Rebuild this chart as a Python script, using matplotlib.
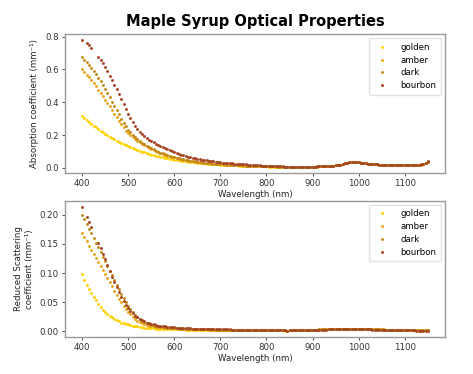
import numpy as np
import matplotlib
matplotlib.use("Agg")
import matplotlib.pyplot as plt

# =========================
# DATA (5 nm steps, 400-1150 nm)
# =========================

wavelength = np.arange(400, 1151, 5)
nan = np.nan

abs_golden = [
    .318, .305, .292, .280, .268, .257, .246, .236, .226, .216,
    .207, .198, .190, .181, .173, .166, .158, .151, .144, .138,
    .131, .125, .119, .114, .108, .103, .098, .094, .089, .085,
    .081, .077, .073, .070, .066, .063, .060, .057, .054, .052,
    .049, .047, .045, .043, .041, .039, .037, .036, .034, .033,
    .031, .030, .029, .027, .026, .025, .024, .023, .022, .021,
    .020, .019, .018, .017, .017, .016, .015, .015, .014, .013,
    .013, .012, .012, .011, .011, .010, .010, .010, .009, .009,
    .009, .008, .008, .008, .007, .007, .007, .007, .006, .006,
    .006, .006, .006, .006, .006, .006, .007, .007, .007, .007,
    .008, .008, .008, .009, .009, .010, .010, .011, .012, .013,
    .015, .017, .020, .024, .028, .031, .033, .034, .034, .034,
    .033, .032, .030, .028, .026, .025, .023, .022, .021, .020,
    .020, .019, .019, .018, .018, .018, .017, .017, .017, .017,
    .017, .017, .017, .017, .018, .018, .019, .020, .024, .031,
    .038,
]
abs_amber = [
    .601, .585, .568, .551, .533, .515, .496, .477, .457, .437,
    .416, .395, .374, .352, .330, .308, .287, .266, .246, .227,
    .213, .200, .188, .177, .166, .156, .147, .138, .130, .122,
    .115, .108, .102, .096, .090, .085, .080, .075, .071, .067,
    .063, .059, .056, .053, .050, .047, .044, .042, .040, .038,
    .036, .034, .032, .030, .029, .027, .026, .025, .024, .023,
    .022, .021, .020, .019, .018, .017, .017, .016, .015, .015,
    .014, .014, .013, .013, .012, .012, .011, .011, .010, .010,
    .010, .009, .009, .009, .008, .008, .008, .008, .007, .007,
    .007, .006, .006, .006, .006, .006, .007, .007, .007, .007,
    .008, .008, .008, .009, .009, .010, .010, .011, .012, .013,
    .015, .017, .020, .024, .028, .031, .033, .034, .034, .034,
    .033, .032, .030, .028, .026, .025, .023, .022, .021, .020,
    .020, .019, .019, .018, .018, .018, .017, .017, .017, .017,
    .017, .017, .017, .017, .018, .018, .019, .020, .024, .031,
    .038,
]
abs_dark = [
    .675, .660, .644, .627, .609, .590, .570, .549, .527, .504,
    .480, .455, .430, .404, .378, .352, .326, .300, .276, .253,
    .233, .216, .201, .187, .175, .164, .153, .144, .135, .127,
    .119, .112, .105, .099, .093, .088, .083, .078, .073, .069,
    .065, .061, .058, .055, .052, .049, .046, .044, .041, .039,
    .037, .035, .033, .032, .030, .029, .027, .026, .025, .024,
    .023, .022, .021, .020, .019, .018, .017, .017, .016, .015,
    .015, .014, .014, .013, .013, .012, .012, .011, .011, .010,
    .010, .010, .009, .009, .009, .008, .008, .008, .007, .007,
    .007, .007, .007, .006, .006, .006, .007, .007, .007, .007,
    .008, .008, .008, .009, .009, .010, .010, .011, .012, .013,
    .015, .017, .020, .024, .028, .031, .033, .034, .034, .034,
    .033, .032, .030, .028, .026, .025, .023, .022, .021, .020,
    .020, .019, .019, .018, .018, .018, .017, .017, .017, .017,
    .017, .017, .017, .017, .018, .018, .019, .020, .024, .031,
    .038,
]
abs_bourbon = [
    .777, nan, .758, .747, .733, nan, nan, .675, .656, .636,
    .613, .588, .562, .535, .507, .478, .448, .418, .388, .358,
    .329, .302, .278, .257, .238, .221, .206, .192, .180, .169,
    .164, .155, .147, .139, .132, .125, .118, .112, .106, .100,
    .095, .090, .086, .081, .077, .073, .069, .066, .062, .059,
    .056, .053, .050, .048, .045, .043, .041, .039, .037, .035,
    .033, .032, .030, .029, .028, .027, .026, .025, .024, .023,
    .022, .021, .020, .019, .018, .017, .016, .015, .014, .013,
    .012, .012, .011, .011, .010, .010, .009, .009, .008, .008,
    .007, .007, .007, .007, .007, .007, .007, .007, .008, .008,
    .008, .008, .009, .009, .010, .010, .011, .011, .012, .013,
    .015, .017, .020, .024, .028, .031, .033, .034, .034, .034,
    .033, .032, .030, .028, .026, .025, .023, .022, .021, .020,
    .020, .019, .019, .018, .018, .018, .017, .017, .017, .017,
    .017, .017, .017, .017, .018, .018, .019, .021, .025, .032,
    .039,
]

sca_golden = [
    .098, .088, .080, .073, .066, .059, .053, .047, .042, .037,
    .033, .030, .027, .024, .021, .019, .017, .015, .014, .013,
    .012, .011, .010, .009, .0085, .008, .0073, .0067, .0062, .0058,
    .0055, .0052, .0050, .0048, .0046, .0044, .0042, .0041, .0040, .0039,
    .0038, .0037, .0036, .0035, .0034, .0033, .0033, .0032, .0032, .0031,
    .0031, .0030, .0030, .0029, .0029, .0028, .0028, .0028, .0027, .0027,
    .0027, .0026, .0026, .0026, .0025, .0025, .0025, .0024, .0024, .0024,
    .0023, .0023, .0023, .0022, .0022, .0022, .0021, .0021, .0021, .0020,
    .0020, .0019, .0019, .0018, .0018, .0017, .0017, .0016, .0015, .0014,
    .0028, .0030, .0031, .0031, .0032, .0032, .0031, .0032, .0033, .0032,
    .0032, .0033, .0032, .0033, .0034, .0033, .0034, .0035, .0034, .0035,
    .0036, .0037, .0038, .0039, .0040, .0040, .0039, .0038, .0037, .0036,
    .0036, .0037, .0038, .0039, .0038, .0037, .0036, .0035, .0034, .0034,
    .0033, .0033, .0032, .0032, .0031, .0031, .0030, .0030, .0029, .0029,
    .0029, .0028, .0028, .0027, .0027, .0026, .0026, .0025, .0025, .0024,
    .0024,
]
sca_amber = [
    .168, .161, .154, .147, .140, .133, .126, .119, .112, .105,
    .098, .091, .084, .077, .070, .063, .056, .050, .044, .039,
    .034, .029, .025, .021, .018, .016, .014, .012, .011, .010,
    .0090, .0085, .0080, .0075, .0070, .0066, .0063, .0060, .0057, .0055,
    .0053, .0051, .0049, .0047, .0045, .0044, .0042, .0041, .0040, .0039,
    .0038, .0037, .0036, .0035, .0034, .0033, .0033, .0032, .0031, .0031,
    .0030, .0030, .0029, .0029, .0028, .0028, .0027, .0027, .0026, .0026,
    .0025, .0025, .0025, .0024, .0024, .0023, .0023, .0022, .0022, .0022,
    .0021, .0021, .0020, .0020, .0019, .0018, .0018, .0017, .0016, .0015,
    .0029, .0031, .0031, .0032, .0032, .0033, .0032, .0033, .0033, .0033,
    .0033, .0033, .0033, .0034, .0034, .0034, .0035, .0035, .0035, .0036,
    .0037, .0038, .0039, .0040, .0041, .0041, .0040, .0039, .0038, .0037,
    .0037, .0038, .0039, .0040, .0039, .0038, .0037, .0036, .0035, .0035,
    .0034, .0034, .0033, .0033, .0032, .0032, .0031, .0031, .0030, .0030,
    .0030, .0029, .0029, .0028, .0028, .0027, .0027, .0026, .0026, .0025,
    .0025,
]
sca_dark = [
    .200, .192, .184, .176, .168, .160, .152, .144, .136, .128,
    .120, .112, .104, .096, .088, .080, .072, .064, .057, .050,
    .044, .038, .033, .028, .024, .021, .018, .016, .014, .012,
    .011, .010, .0092, .0085, .0080, .0075, .0070, .0066, .0063, .0060,
    .0057, .0055, .0052, .0050, .0048, .0046, .0045, .0043, .0042, .0041,
    .0040, .0039, .0038, .0037, .0036, .0035, .0034, .0034, .0033, .0032,
    .0032, .0031, .0031, .0030, .0030, .0029, .0029, .0028, .0028, .0027,
    .0027, .0026, .0026, .0025, .0025, .0024, .0024, .0023, .0023, .0022,
    .0022, .0021, .0021, .0020, .0019, .0019, .0018, .0017, .0016, .0015,
    .0029, .0030, .0031, .0032, .0032, .0032, .0032, .0033, .0033, .0033,
    .0033, .0033, .0033, .0034, .0034, .0034, .0035, .0035, .0035, .0036,
    .0037, .0038, .0039, .0040, .0040, .0040, .0040, .0039, .0038, .0037,
    .0037, .0038, .0039, .0039, .0039, .0038, .0037, .0036, .0035, .0034,
    .0034, .0033, .0033, .0032, .0032, .0031, .0031, .0030, .0030, .0029,
    .0029, .0028, .0028, .0027, .0027, .0026, .0026, .0025, .0024, .0024,
    .0023,
]
sca_bourbon = [
    .213, nan, .196, .187, .178, nan, nan, .152, .142, .133,
    .124, .114, .104, .094, .085, .076, .067, .059, .052, .046,
    .040, .035, .031, .027, .024, .021, .019, .017, .015, .014,
    .013, .012, .011, .010, .0095, .0090, .0085, .0080, .0075, .0070,
    .0068, .0065, .0062, .0060, .0058, .0056, .0054, .0052, .0050, .0049,
    .0048, .0046, .0045, .0044, .0043, .0042, .0041, .0040, .0039, .0038,
    .0037, .0036, .0035, .0035, .0034, .0033, .0033, .0032, .0031, .0031,
    .0030, .0030, .0029, .0028, .0028, .0027, .0027, .0026, .0025, .0025,
    .0024, .0023, .0022, .0021, .0020, .0019, .0018, .0017, .0016, .0015,
    .0029, .0030, .0030, .0031, .0031, .0031, .0031, .0032, .0032, .0032,
    .0032, .0032, .0032, .0033, .0033, .0033, .0033, .0034, .0034, .0034,
    .0035, .0035, .0036, .0036, .0036, .0036, .0035, .0035, .0034, .0034,
    .0035, .0036, .0036, .0036, .0035, .0034, .0033, .0032, .0031, .0030,
    .0029, .0028, .0027, .0026, .0025, .0024, .0023, .0022, .0021, .0020,
    .0019, .0018, .0018, .0017, .0016, .0015, .0014, .0013, .0012, .0012,
    .0011,
]

syrups = ["golden", "amber", "dark", "bourbon"]
colors = ["#FFD200", "#E8A51C", "#C28A1A", "#A44522"]

# =========================
# PLOT
# =========================

plt.rcParams["font.family"] = "DejaVu Sans"

fig = plt.figure(figsize=(4.73, 3.74), dpi=100)
ax1 = fig.add_axes([0.137, 0.537, 0.804, 0.372])
ax2 = fig.add_axes([0.137, 0.099, 0.804, 0.364])

abs_series = [abs_golden, abs_amber, abs_dark, abs_bourbon]
sca_series = [sca_golden, sca_amber, sca_dark, sca_bourbon]

for name, col, a, s in zip(syrups, colors, abs_series, sca_series):
    ax1.plot(wavelength, a, "o", ms=2.1, mew=0, color=col, label=name)
    ax2.plot(wavelength, s, "o", ms=2.1, mew=0, color=col, label=name)

ax1.set_ylabel("Absorption coefficient (mm⁻¹)", fontsize=6.2, color="#222222")
ax2.set_ylabel("Reduced Scattering\ncoefficient (mm⁻¹)", fontsize=6.2, color="#222222")
ax1.set_yticks([0.0, 0.2, 0.4, 0.6, 0.8])
ax2.set_yticks([0.0, 0.05, 0.10, 0.15, 0.20])

for ax in (ax1, ax2):
    ax.set_xlabel("Wavelength (nm)", fontsize=6.2, color="#222222", labelpad=1)
    ax.set_xticks(range(400, 1101, 100))
    ax.tick_params(labelsize=6.2, length=2.5, width=0.6, colors="#333333", pad=2)
    for sp in ax.spines.values():
        sp.set_color("#999999")
        sp.set_linewidth(1.0)
    ax.legend(loc="upper right", fontsize=6.2, frameon=True, edgecolor="#dddddd",
              handletextpad=1.2, borderpad=0.5, labelspacing=0.45)

ax2.yaxis.set_major_formatter(matplotlib.ticker.FormatStrFormatter("%.2f"))

# title centred over the axes, like the reference
ax1.set_title("Maple Syrup Optical Properties", fontsize=10.5, weight="bold", pad=6)

fig.savefig("out.png", dpi=100)
